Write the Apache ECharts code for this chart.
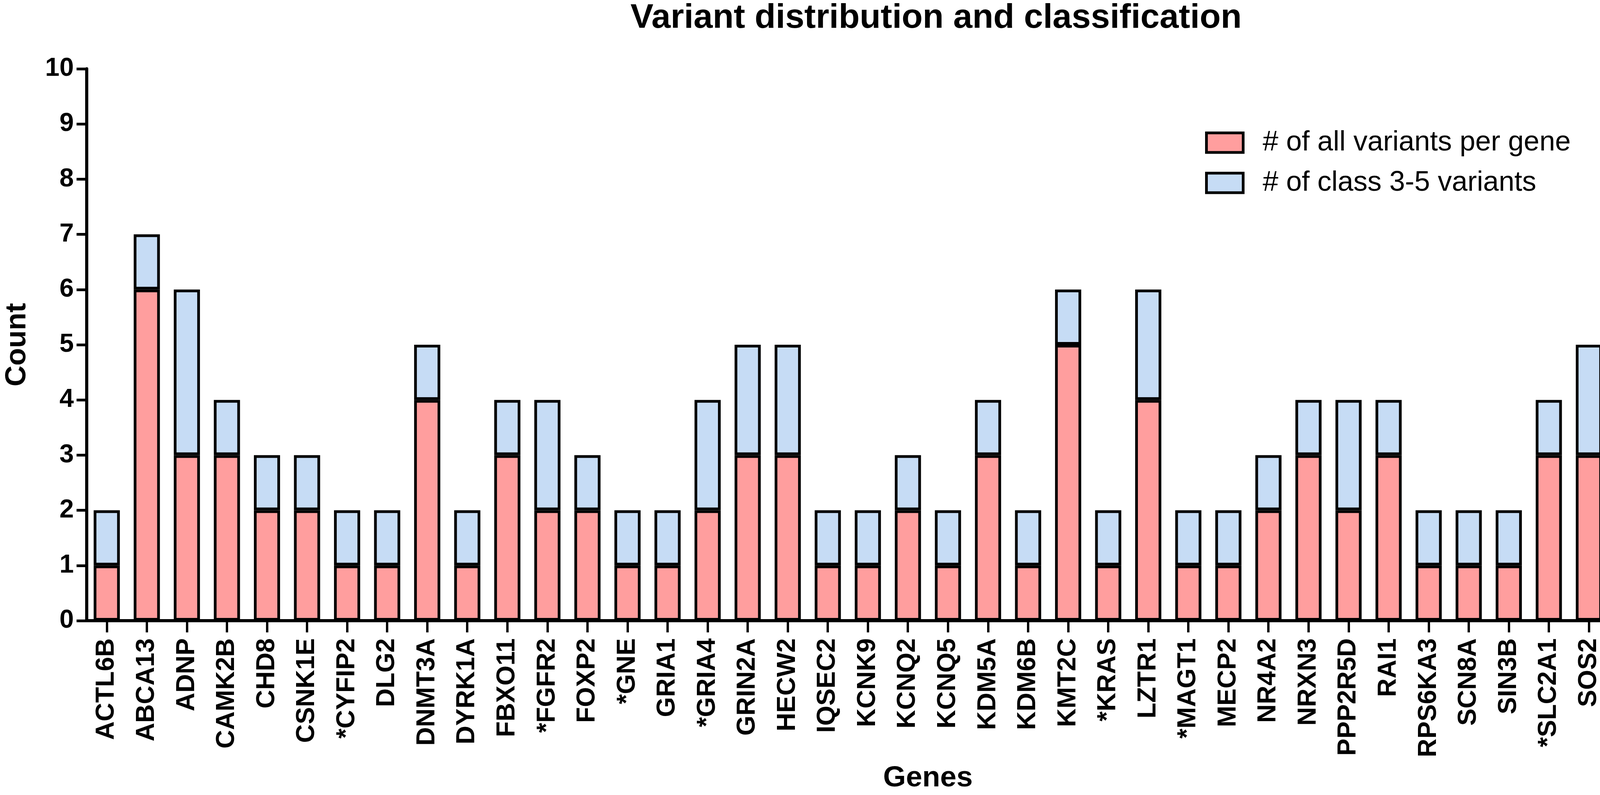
<!DOCTYPE html>
<html>
<head>
<meta charset="utf-8">
<script src="https://cdn.jsdelivr.net/npm/echarts@6/dist/echarts.min.js"></script>
<style>
html,body{margin:0;padding:0;background:#fff;}
#chart{width:4562px;height:2034px;}
</style>
</head>
<body>
<div id="chart"></div>
<script>
const genes = ['ACTL6B','ABCA13','ADNP','CAMK2B','CHD8','CSNK1E','*CYFIP2','DLG2','DNMT3A','DYRK1A','FBXO11','*FGFR2','FOXP2','*GNE','GRIA1','*GRIA4','GRIN2A','HECW2','IQSEC2','KCNK9','KCNQ2','KCNQ5','KDM5A','KDM6B','KMT2C','*KRAS','LZTR1','*MAGT1','MECP2','NR4A2','NRXN3','PPP2R5D','RAI1','RPS6KA3','SCN8A','SIN3B','*SLC2A1','SOS2','STAG1','TBL1XR1','TM4SF20','TRIP12'];
const allVariants = [1,6,3,3,2,2,1,1,4,1,3,2,2,1,1,2,3,3,1,1,2,1,3,1,5,1,4,1,1,2,3,2,3,1,1,1,3,3,1,3,1,6];
const class35Variants = [1,1,3,1,1,1,1,1,1,1,1,2,1,1,1,2,2,2,1,1,1,1,1,1,1,1,2,1,1,1,1,2,1,1,1,1,1,2,1,3,1,1];
const yTicks = [0,1,2,3,4,5,6,7,8,9,10];

const FONT = 'Liberation Sans, Arial, sans-serif';
const chart = echarts.init(document.getElementById('chart'), null, {renderer:'canvas'});
chart.setOption({
  animation:false,
  backgroundColor:'#ffffff',
  title:{
    text:'Variant distribution and classification',
    left:1609, top:-2,
    textStyle:{fontFamily:FONT, fontWeight:'bold', fontSize:88, color:'#000'}
  },
  legend:{
    data:['# of all variants per gene','# of class 3-5 variants'],
    orient:'vertical',
    icon:'rect',
    left:3080, top:324,
    itemWidth:94, itemHeight:50, itemGap:31,
    itemStyle:{borderColor:'#000', borderWidth:7},
    textStyle:{fontFamily:FONT, fontSize:72, color:'#000', padding:[0,0,0,45]}
  },
  grid:{left:211, right:33, top:176, bottom:440, containLabel:false},
  xAxis:{
    type:'category',
    data:genes,
    name:'Genes',
    nameLocation:'middle',
    nameGap:366,
    nameTextStyle:{fontFamily:FONT, fontWeight:'bold', fontSize:75, color:'#000'},
    axisLine:{lineStyle:{color:'#000', width:8}},
    axisTick:{show:true, alignWithLabel:true, length:30, lineStyle:{color:'#000', width:6}},
    axisLabel:{rotate:90, interval:0, margin:45, fontFamily:FONT, fontWeight:'bold', fontSize:66, color:'#000'}
  },
  yAxis:{
    type:'value',
    min:0, max:10, interval:1,
    name:'Count',
    nameLocation:'middle',
    nameGap:140,
    nameTextStyle:{fontFamily:FONT, fontWeight:'bold', fontSize:74, color:'#000'},
    axisLine:{show:true, lineStyle:{color:'#000', width:8}},
    axisTick:{show:true, length:26, lineStyle:{color:'#000', width:7}},
    axisLabel:{margin:33, fontFamily:FONT, fontWeight:'bold', fontSize:66, color:'#000',
      formatter:function(v){return yTicks.indexOf(v)>=0?String(v):'';}},
    splitLine:{show:false}
  },
  series:[
    {
      name:'# of all variants per gene',
      type:'bar', stack:'total',
      data:allVariants,
      barWidth:67,
      itemStyle:{color:'#FF9E9E', borderColor:'#000', borderWidth:7}
    },
    {
      name:'# of class 3-5 variants',
      type:'bar', stack:'total',
      data:class35Variants,
      barWidth:67,
      itemStyle:{color:'#C6DCF5', borderColor:'#000', borderWidth:7}
    }
  ]
});
</script>
</body>
</html>
